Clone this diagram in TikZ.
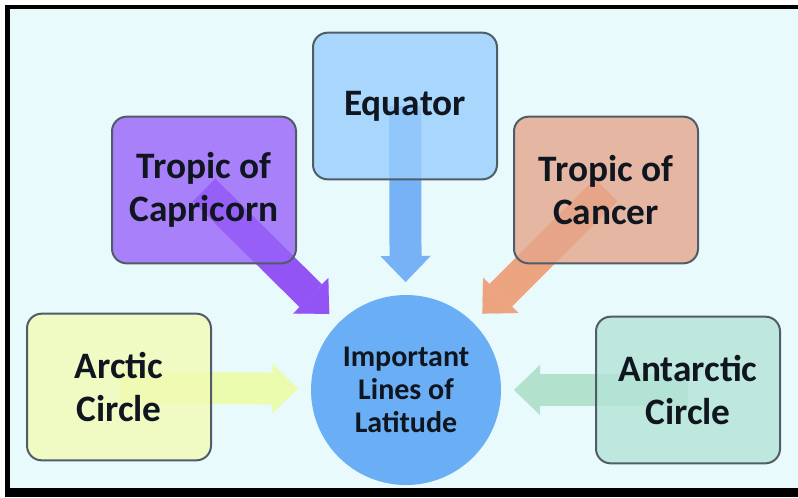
\documentclass[tikz,border=0pt]{standalone}
\usepackage{fontspec}
\setsansfont{Carlito}
\usepackage{tikz}
\usetikzlibrary{
  arrows.meta,
  positioning,
  calc
}
\definecolor{latBack}{HTML}{E8FAFC}
\definecolor{latText}{HTML}{10161F}
\definecolor{latEdge}{HTML}{505C68}
\definecolor{latEquator}{HTML}{98CDFC}
\definecolor{latEquatorA}{HTML}{78B2F6}
\definecolor{latCapri}{HTML}{9862F9}
\definecolor{latCapriA}{HTML}{9254F4}
\definecolor{latCancer}{HTML}{E5A58B}
\definecolor{latCancerA}{HTML}{ECA480}
\definecolor{latArctic}{HTML}{F2FAB5}
\definecolor{latArcticA}{HTML}{EBFCAF}
\definecolor{latAntarc}{HTML}{B4E4D6}
\definecolor{latAntarcA}{HTML}{B2E2CE}
\definecolor{latHub}{HTML}{6AAEF5}
\pgfdeclarelayer{back}
\pgfdeclarelayer{links}
\pgfsetlayers{back,links,main}
\tikzset{
  latbox/.style={draw=latEdge, line width=1.5pt, rounded corners=11pt,
    fill opacity=0.8, text opacity=1, minimum width=138pt, minimum height=110pt,
    align=center, text=latText, font=\sffamily\bfseries\fontsize{28}{32}\selectfont},
  hub/.style={circle, fill=latHub, minimum size=142.5pt, outer sep=9.75pt,
    align=center, text=latText, font=\sffamily\bfseries\fontsize{22.5}{25}\selectfont},
  link/.style={line width=24pt,
    -{Triangle[width=37.5pt, length=19.5pt, line width=0.1pt]}}
}

\begin{document}
\begin{tikzpicture}[x=0.75pt, y=-0.75pt]
  \useasboundingbox (0,0) rectangle (798,497);
  \begin{pgfonlayer}{back}
    \fill[white] (0,0) rectangle (798,497);
    \fill[latBack] (5,5) rectangle (798,497);
    \fill[black] (5,5) rectangle (798,9);
    \fill[black] (5,5) rectangle (10,497);
    \fill[black] (5,488) rectangle (798,497);
  \end{pgfonlayer}
  \node[hub] (lat) at (406,390) {Important\\Lines of\\Latitude};
  \foreach \nm/\pos/\col/\txt in {
    equator/{405,106}/latEquator/{Equator},
    capri/{204,190}/latCapri/{Tropic of\\Capricorn},
    cancer/{606,190}/latCancer/{Tropic of\\Cancer},
    arctic/{119,387}/latArctic/{Arctic\\Circle},
    antarc/{688,390}/latAntarc/{Antarctic\\Circle}}{
    \node[latbox, fill=\col] (\nm) at (\pos) {\txt};
  }
  \begin{pgfonlayer}{links}
    \foreach \nm/\col in {equator/latEquatorA, capri/latCapriA,
      cancer/latCancerA, arctic/latArcticA, antarc/latAntarcA}{
      \draw[link, color=\col] (\nm.center) -- (lat);
    }
  \end{pgfonlayer}
\end{tikzpicture}
\end{document}
